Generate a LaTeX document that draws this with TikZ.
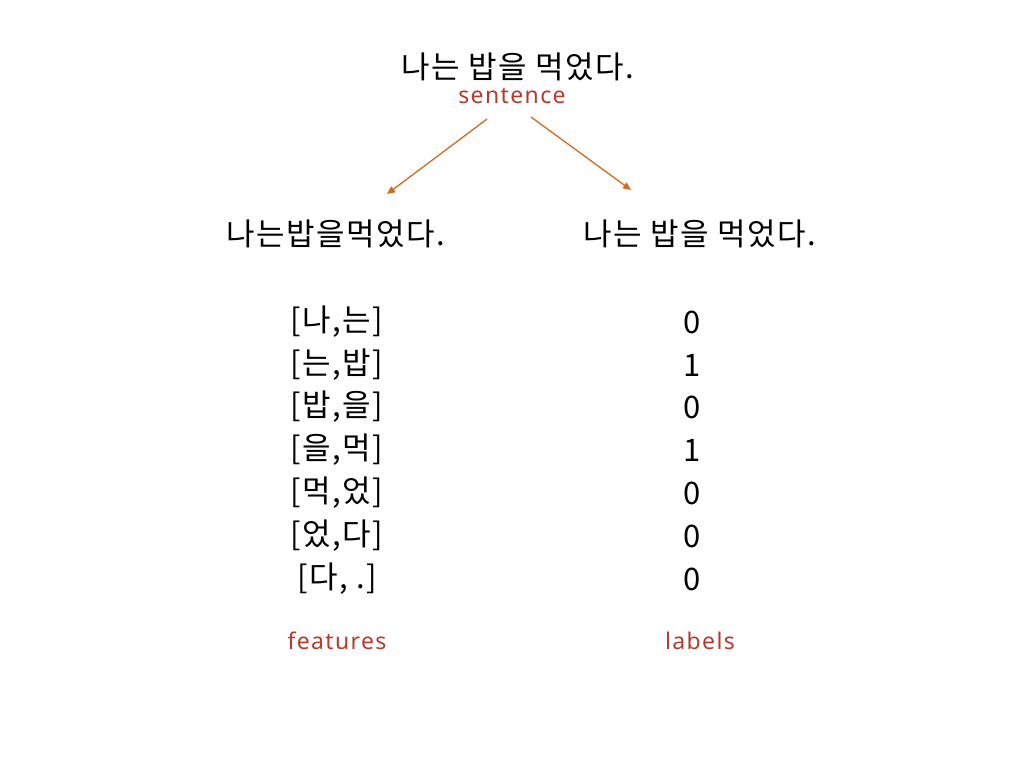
\documentclass[tikz,border=0pt]{standalone}
\usepackage{fontspec}
\setmainfont{Noto Sans CJK KR}[LetterSpace=5]
\newfontfamily\notefont{Noto Sans}[LetterSpace=6]
\usetikzlibrary{arrows.meta}
\definecolor{notered}{HTML}{B83A2A}
\definecolor{arrowor}{HTML}{D2691E}
\begin{document}
\begin{tikzpicture}[x=1pt,y=-1pt,
  kor/.style={font=\fontsize{31}{36}\selectfont, inner sep=0pt, anchor=center},
  item/.style={font=\fontsize{31}{36}\selectfont, inner sep=0pt, anchor=center},
  note/.style={font=\notefont\fontsize{23}{28}\selectfont, text=notered, inner sep=0pt},
  conn/.style={draw=arrowor, line width=1.3pt, -{Triangle[length=8pt,width=7pt]}}]
\useasboundingbox (0,0) rectangle (1024,768);
\node[kor] (sent) at (518,67) {나는 밥을 먹었다.};
\node[note] (sentlab) at (512,96) {sentence};
\node[kor] (feat) at (336,234) {나는밥을먹었다.};
\node[kor] (lab) at (700,234) {나는 밥을 먹었다.};
\coordinate (a1) at (487,119);
\coordinate (a2) at (531,117);
\coordinate (b1) at (387,194);
\coordinate (b2) at (631,190);
\draw[conn] (a1) -- (b1);
\draw[conn] (a2) -- (b2);
\node[item] (f1) at (337,322) {[나,는]};
\node[item] (f2) at (337,365) {[는,밥]};
\node[item] (f3) at (337,407) {[밥,을]};
\node[item] (f4) at (337,450) {[을,먹]};
\node[item] (f5) at (337,493) {[먹,었]};
\node[item] (f6) at (337,536) {[었,다]};
\node[item] (f7) at (337,579) {[다, .]};
\node[item] (l1) at (692,322) {0};
\node[item] (l2) at (692,365) {1};
\node[item] (l3) at (692,407) {0};
\node[item] (l4) at (692,450) {1};
\node[item] (l5) at (692,493) {0};
\node[item] (l6) at (692,536) {0};
\node[item] (l7) at (692,579) {0};
\node[note] (featlab) at (337,641) {features};
\node[note] (lablab) at (700,641) {labels};
\end{tikzpicture}
\end{document}
